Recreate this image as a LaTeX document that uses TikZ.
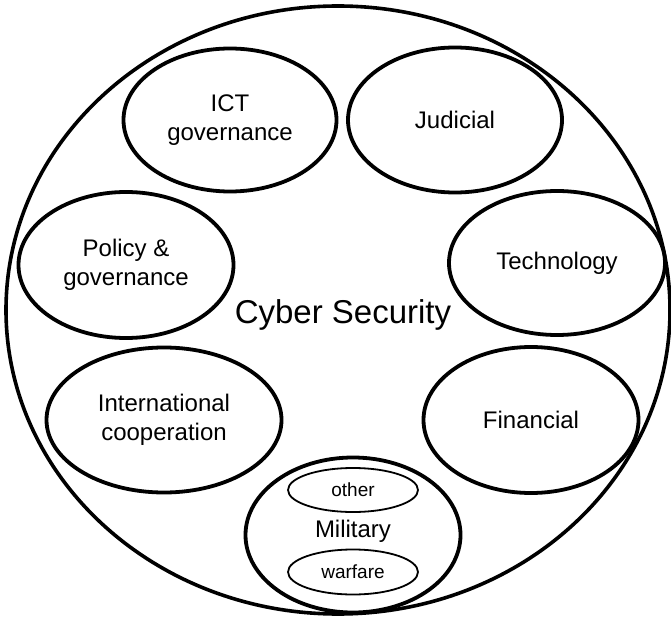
\documentclass[tikz,border=0pt]{standalone}
\usepackage{fontspec}
\setmainfont{Liberation Sans}
\usetikzlibrary{shapes.geometric}
\tikzset{
  area/.style={ellipse, draw=black, line width=3.8pt, inner sep=0pt, align=center,
    font=\fontsize{24}{29}\selectfont},
  sub/.style={ellipse, draw=black, line width=1.8pt, inner sep=0pt,
    font=\fontsize{19}{22}\selectfont},
  outer/.style={ellipse, draw=black, line width=3.6pt, inner sep=0pt},
}
\begin{document}
\begin{tikzpicture}[x=1pt,y=-1pt]
\useasboundingbox (0,0) rectangle (671,617);
\node[outer, minimum width=664pt, minimum height=608pt] (cs) at (338,310) {};
\node[font=\fontsize{33}{38}\selectfont] (cstext) at (343,315) {Cyber Security};
\node[area, minimum width=213pt, minimum height=143pt] (ict) at (230,120) {ICT\\governance};
\node[area, minimum width=214pt, minimum height=145pt] (jud) at (455,120) {Judicial};
\node[area, minimum width=215pt, minimum height=146pt] (pol) at (126,265) {Policy \&\\governance};
\node[area, minimum width=216pt, minimum height=144pt] (tech) at (557,263) {Technology};
\node[area, minimum width=235pt, minimum height=145pt] (intl) at (164,420) {International\\cooperation};
\node[area, minimum width=215pt, minimum height=146pt] (fin) at (531,420) {Financial};
\node[area, minimum width=215pt, minimum height=155pt] (mil) at (353,535) {};
\node[font=\fontsize{24}{28}\selectfont] (miltext) at (353,531) {Military};
\node[sub, minimum width=130pt, minimum height=44pt] (other) at (353,490) {other};
\node[sub, minimum width=130pt, minimum height=45pt] (warfare) at (353,572) {warfare};
\end{tikzpicture}
\end{document}
